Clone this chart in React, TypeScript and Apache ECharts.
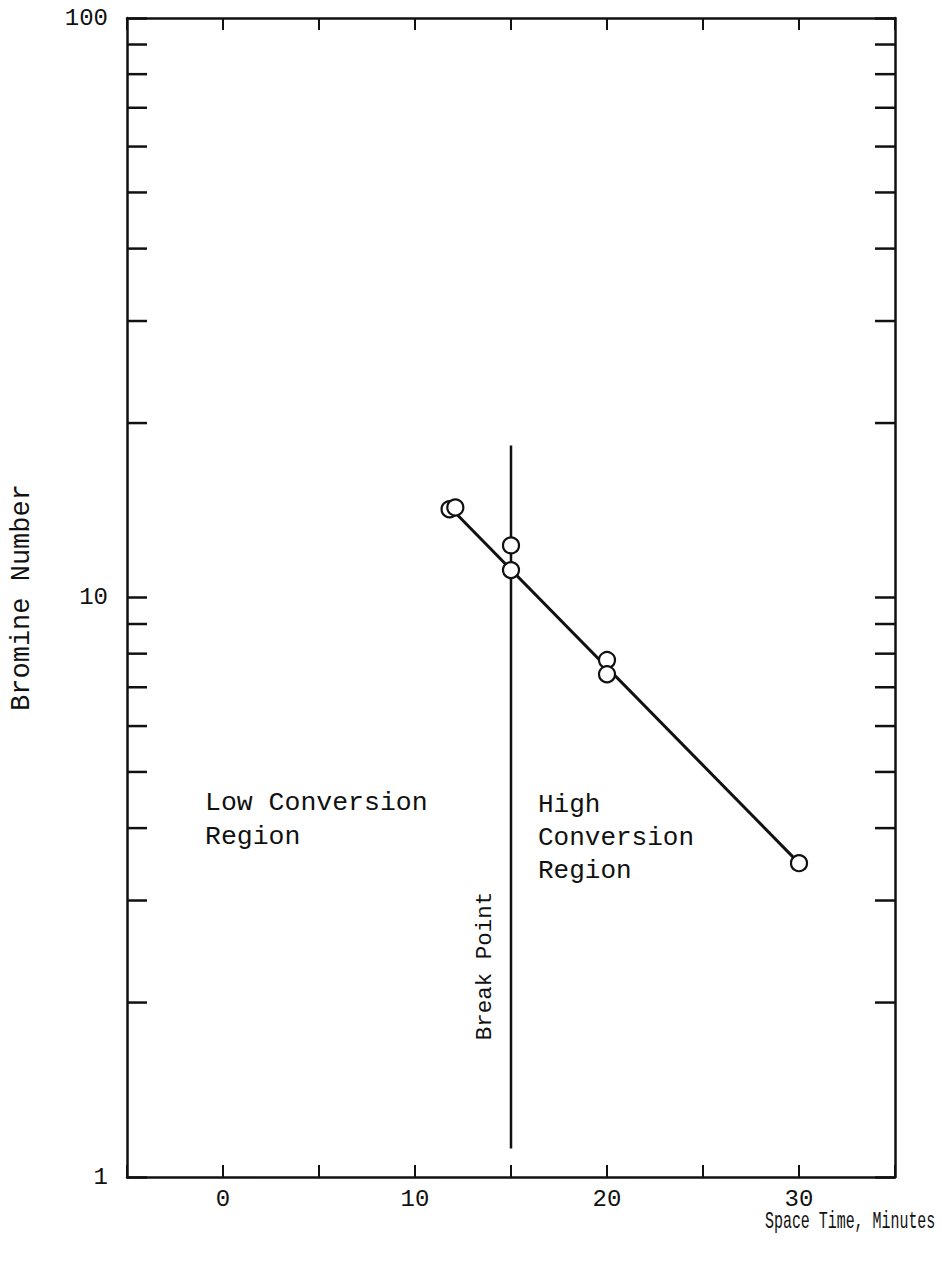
import React, { useEffect, useRef } from "react";
import * as echarts from "echarts";

// ---- data ----
const pointX = [11.8, 12.1, 15, 15, 20, 20, 30];
const pointY = [14.2, 14.3, 12.3, 11.15, 7.8, 7.37, 3.48];
const fitX = [12.1, 30];
const fitY = [14.0, 3.48];
const breakX = [15, 15];
const breakY = [1.12, 18.3];
const xTickLabels = [0, 10, 20, 30];
const yMinorTicks = [2, 3, 4, 5, 6, 7, 8, 9, 20, 30, 40, 50, 60, 70, 80, 90];
const X_MIN = -5;
const X_MAX = 35;
const Y_MIN = 1;
const Y_MAX = 100;

const FONT = '"Liberation Mono", "DejaVu Sans Mono", monospace';
const INK = "#111";

export default function App() {
  const ref = useRef<HTMLDivElement>(null);
  useEffect(() => {
    document.body.style.margin = "0";
    const chart = echarts.init(ref.current!, null, { renderer: "svg" });
    const yTickLen = 20;
    const xTickLen = 12;
    const lw = 2.5;
    const option: any = {
      animation: false,
      backgroundColor: "#fff",
      grid: { left: 127, top: 18, right: 47, bottom: 87, containLabel: false },
      xAxis: [
        {
          type: "value",
          min: X_MIN,
          max: X_MAX,
          interval: 5,
          axisLine: { show: true, onZero: false, lineStyle: { color: INK, width: lw } },
          axisTick: { show: true, inside: true, length: xTickLen, lineStyle: { color: INK, width: 2 } },
          axisLabel: {
            margin: 10,
            color: INK,
            fontFamily: FONT,
            fontSize: 24,
            formatter: (v: number) => (xTickLabels.indexOf(v) >= 0 ? String(v) : ""),
          },
          splitLine: { show: false },
        },
        {
          type: "value",
          position: "top",
          min: X_MIN,
          max: X_MAX,
          interval: 5,
          axisLine: { show: true, onZero: false, lineStyle: { color: INK, width: lw } },
          axisTick: { show: true, inside: true, length: xTickLen, lineStyle: { color: INK, width: 2 } },
          axisLabel: { show: false },
          splitLine: { show: false },
        },
      ],
      yAxis: [
        {
          type: "log",
          logBase: 10,
          min: Y_MIN,
          max: Y_MAX,
          name: "Bromine Number",
          nameLocation: "middle",
          nameRotate: 90,
          nameGap: 92,
          nameTextStyle: { color: INK, fontFamily: FONT, fontSize: 27 },
          axisLine: { show: true, onZero: false, lineStyle: { color: INK, width: lw } },
          axisTick: { show: true, inside: true, length: yTickLen, lineStyle: { color: INK, width: lw } },
          axisLabel: { margin: 19, color: INK, fontFamily: FONT, fontSize: 24 },
          splitLine: { show: false },
        },
        {
          type: "log",
          logBase: 10,
          min: Y_MIN,
          max: Y_MAX,
          position: "right",
          axisLine: { show: true, onZero: false, lineStyle: { color: INK, width: lw } },
          axisTick: { show: true, inside: true, length: yTickLen, lineStyle: { color: INK, width: lw } },
          axisLabel: { show: false },
          splitLine: { show: false },
        },
      ],
      series: [
        {
          type: "custom",
          xAxisIndex: 0,
          yAxisIndex: 0,
          silent: true,
          clip: false,
          data: yMinorTicks.map((v) => [X_MIN, v]),
          renderItem: (params: any, api: any) => {
            const v = api.value(1);
            const l = api.coord([X_MIN, v]);
            const r = api.coord([X_MAX, v]);
            const st = { stroke: INK, lineWidth: lw };
            return {
              type: "group",
              children: [
                { type: "line", shape: { x1: l[0], y1: l[1], x2: l[0] + yTickLen, y2: l[1] }, style: st },
                { type: "line", shape: { x1: r[0], y1: r[1], x2: r[0] - yTickLen, y2: r[1] }, style: st },
              ],
            };
          },
        },
        {
          type: "line",
          data: breakX.map((x, i) => [x, breakY[i]]),
          symbol: "none",
          lineStyle: { color: INK, width: 2.5 },
          z: 3,
        },
        {
          type: "line",
          data: fitX.map((x, i) => [x, fitY[i]]),
          symbol: "none",
          lineStyle: { color: INK, width: 3 },
          z: 3,
        },
        {
          type: "scatter",
          data: pointX.map((x, i) => [x, pointY[i]]),
          symbol: "circle",
          symbolSize: 16,
          itemStyle: { color: "#fff", borderColor: INK, borderWidth: 2.2, opacity: 1 },
          z: 5,
        },
      ],
      graphic: [
        {
          type: "text",
          left: 205,
          top: 786,
          style: { text: "Low Conversion\nRegion", font: `26.5px ${FONT}`, fill: INK, lineHeight: 34 },
        },
        {
          type: "text",
          left: 538,
          top: 788,
          style: { text: "High\nConversion\nRegion", font: `26px ${FONT}`, fill: INK, lineHeight: 33 },
        },
        {
          type: "text",
          x: 485,
          y: 966,
          rotation: Math.PI / 2,
          style: {
            text: "Break Point",
            font: `22.5px ${FONT}`,
            fill: INK,
            align: "center",
            verticalAlign: "middle",
          },
        },
        {
          type: "text",
          x: 765,
          y: 1222,
          scaleX: 0.65,
          style: {
            text: "Space Time, Minutes",
            font: `23px ${FONT}`,
            fill: INK,
            align: "left",
            verticalAlign: "middle",
          },
        },
      ],
    };
    chart.setOption(option);
    return () => chart.dispose();
  }, []);
  return <div ref={ref} style={{ width: 942, height: 1264 }} />;
}
